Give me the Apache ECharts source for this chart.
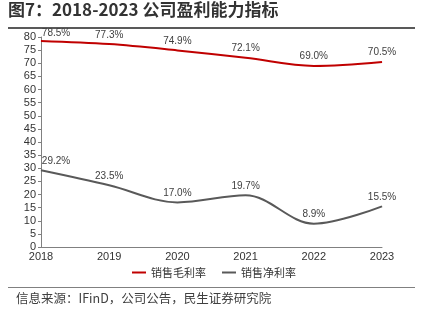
<!DOCTYPE html>
<html><head><meta charset="utf-8">
<script src="https://cdn.jsdelivr.net/npm/echarts@6/dist/echarts.min.js"></script>
<style>html,body{margin:0;padding:0;background:#fff}#c{width:428px;height:321px}</style>
</head><body><div id="c"></div>
<script>
var years = ['2018','2019','2020','2021','2022','2023'];
var grossMargin = [78.5, 77.3, 74.9, 72.1, 69.0, 70.5];
var netMargin = [29.2, 23.5, 17.0, 19.7, 8.9, 15.5];
var yTicks = {min: 0, max: 80, interval: 5};
var titleText = '图7：2018-2023 公司盈利能力指标';
var sourceText = '信息来源：IFinD，公司公告，民生证券研究院';

var font = '"Microsoft YaHei","Noto Sans CJK SC",sans-serif';
var chart = echarts.init(document.getElementById('c'));
function lbl(){
  return {
    show: true, position: 'top', distance: 4, fontSize: 10, color: '#404040',
    fontFamily: 'Arial, "Liberation Sans", sans-serif',
    formatter: function(p){ return Number(p.value).toFixed(1) + '%'; }
  };
}
chart.setOption({
  animation: false,
  textStyle: {fontFamily: font},
  grid: {left: 41, right: 46, top: 37, bottom: 74},
  legend: {
    bottom: 38, left: 'center', itemWidth: 14, itemHeight: 2, itemGap: 16,
    icon: 'rect',
    textStyle: {fontSize: 11, color: '#333', fontFamily: font},
    data: ['销售毛利率', '销售净利率']
  },
  xAxis: {
    type: 'category', data: years, boundaryGap: false,
    axisLine: {lineStyle: {color: '#808080'}},
    axisTick: {show: false},
    axisLabel: {fontSize: 11, color: '#333', margin: 4, fontFamily: 'Arial, "Liberation Sans", sans-serif'}
  },
  yAxis: {
    type: 'value', min: yTicks.min, max: yTicks.max, interval: yTicks.interval,
    axisLine: {show: true, lineStyle: {color: '#808080'}},
    axisTick: {show: true, length: 3, lineStyle: {color: '#808080'}},
    splitLine: {show: false},
    axisLabel: {fontSize: 11, color: '#333', margin: 5, fontFamily: 'Arial, "Liberation Sans", sans-serif'}
  },
  series: [
    {
      name: '销售毛利率', type: 'line', smooth: 0.35, symbol: 'circle', symbolSize: 0.5, showSymbol: true,
      data: grossMargin.map(function(v,i){ return i===0 ? {value: v, label: {offset: [15, 2]}} : v; }),
      lineStyle: {color: '#c00000', width: 2}, itemStyle: {color: '#c00000'},
      label: lbl()
    },
    {
      name: '销售净利率', type: 'line', smooth: 0.35, symbol: 'circle', symbolSize: 0.5, showSymbol: true,
      data: netMargin.map(function(v,i){ return i===0 ? {value: v, label: {offset: [15, 0]}} : v; }),
      lineStyle: {color: '#595959', width: 2}, itemStyle: {color: '#595959'},
      label: lbl()
    }
  ],
  graphic: [
    {type: 'text', left: 8, top: 1, style: {text: titleText, font: 'bold 17px ' + font, fill: '#333'}},
    {type: 'rect', shape: {x: 8, y: 27, width: 407, height: 2}, style: {fill: '#595959'}},
    {type: 'rect', shape: {x: 8, y: 287, width: 407, height: 1}, style: {fill: '#808080'}},
    {type: 'text', left: 16, top: 292, style: {text: sourceText, font: '12.5px ' + font, fill: '#404040'}}
  ]
});
</script></body></html>
